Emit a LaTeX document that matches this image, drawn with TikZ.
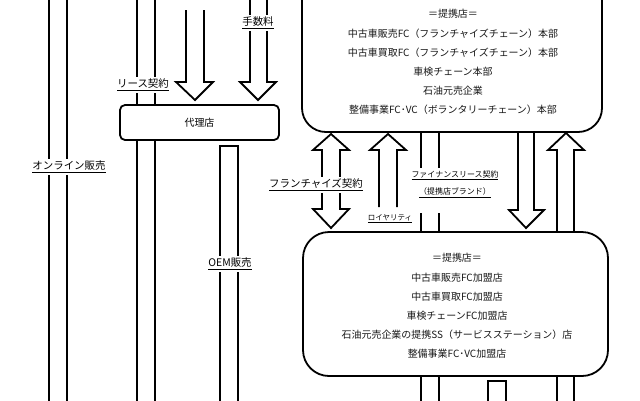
\documentclass[tikz,border=0pt]{standalone}
\usepackage{fontspec}
\newfontfamily\jp{Noto Sans CJK JP}
\begin{document}
\begin{tikzpicture}[x=1bp,y=-1bp, line width=1.8bp, line join=miter,
  lbl/.style={fill=white, inner xsep=1.5bp, inner ysep=2bp, font=\jp\fontsize{10.5}{12}\selectfont},
  smalllbl/.style={fill=white, inner sep=1.5bp, font=\jp\fontsize{7.5}{9}\selectfont},
  boxtext/.style={font=\jp\fontsize{10}{19.2}\selectfont, align=center, text=black!90},
  bigbox/.style={draw, fill=white},
]
\useasboundingbox (0,0) rectangle (640,400);
\fill[white] (0,0) rectangle (640,400);

% long vertical pairs
\draw (49,-5) -- (49,405) (67,-5) -- (67,405);
\draw (137,-5) -- (137,405) (155,-5) -- (155,405);
% OEM bar
\draw (220,405) -- (220,146) -- (238,146) -- (238,405);
% down arrow (contract)
\draw (186,10) -- (186,82) -- (176,82) -- (195,100) -- (213,82) -- (204,82) -- (204,10);
% down arrow (fee)
\draw (250,-5) -- (250,82) -- (240,82) -- (258,100) -- (276,82) -- (267,82) -- (267,-5);
% double arrow (franchise)
\draw (322,150) -- (313,150) -- (331,134) -- (349,150) -- (340,150) -- (340,209) -- (349,209) -- (331,228) -- (313,209) -- (322,209) -- cycle;
% royalty up arrow
\draw (379,207) -- (379,150) -- (370,150) -- (388,134) -- (406,150) -- (397,150) -- (397,207);
% finance lease pair
\draw (421,120) -- (421,168) (439,120) -- (439,168);
\draw (421,213) -- (421,405) (439,213) -- (439,405);
% right down arrow
\draw (518,120) -- (518,210) -- (509,210) -- (526,228) -- (544,210) -- (534,210) -- (534,120);
% right up arrow
\draw (557,405) -- (557,150) -- (548,150) -- (566,133) -- (584,150) -- (574,150) -- (574,405);
% bottom small bar
\draw (488,405) -- (488,381) -- (506,381) -- (506,405);

% boxes
\node[bigbox, rounded corners=5bp, minimum width=159bp, minimum height=35bp,
      font=\jp\fontsize{10}{12}\selectfont] (dealer) at (199.5,122.5) {代理店};
\node[bigbox, rounded corners=24bp, minimum width=300bp, minimum height=172bp] (hq) at (452,46) {};
\node[boxtext] (hqtext) at (453,62) {＝提携店＝\\中古車販売FC（フランチャイズチェーン）本部\\中古車買取FC（フランチャイズチェーン）本部\\車検チェーン本部\\石油元売企業\\整備事業FC･VC（ボランタリーチェーン）本部};
\node[bigbox, rounded corners=26bp, minimum width=305bp, minimum height=144bp] (member) at (455.5,304) {};
\node[boxtext] (memtext) at (457,306) {＝提携店＝\\中古車販売FC加盟店\\中古車買取FC加盟店\\車検チェーンFC加盟店\\石油元売企業の提携SS（サービスステーション）店\\整備事業FC･VC加盟店};

% labels
\node[lbl, font=\jp\fontsize{12.5}{14}\selectfont] (ltop) at (200,-7) {\underline{代理店契約}};
\node[lbl] (lfee) at (258,23) {\underline{手数料}};
\node[lbl] (llease) at (143,85) {\underline{リース契約}};
\node[lbl] (lonline) at (69,167) {\underline{オンライン販売}};
\node[lbl] (loem) at (230,264) {\underline{OEM販売}};
\node[lbl] (lfc) at (316,185) {\underline{フランチャイズ契約}};
\node[smalllbl] (lroy) at (390,219) {\underline{ロイヤリティ}};
\node[smalllbl, font=\jp\fontsize{8}{18}\selectfont, align=center] (lfin) at (455,184) {\underline{ファイナンスリース契約}\\\underline{（提携店ブランド）}};
\end{tikzpicture}
\end{document}
